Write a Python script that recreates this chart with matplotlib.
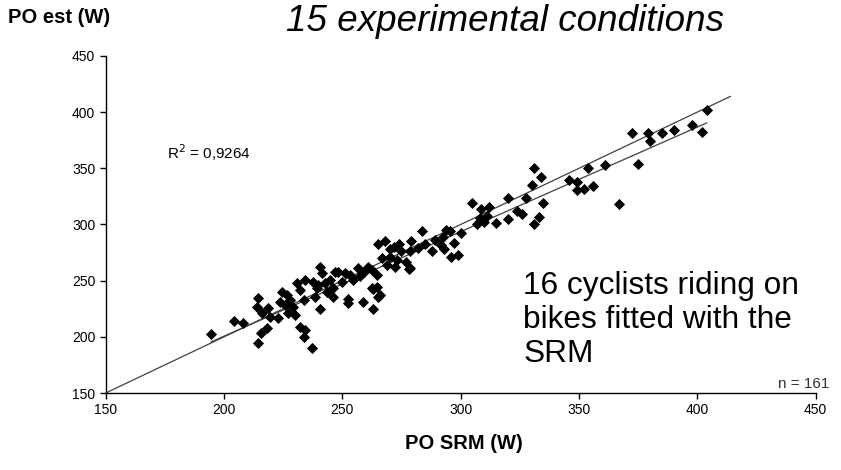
import numpy as np
import matplotlib.pyplot as plt

plt.rcParams['font.family'] = ['Liberation Sans', 'DejaVu Sans']

po_srm = [
    404, 398, 402, 390, 385, 379, 380, 372.5, 375, 367,
    361, 354, 356, 346, 349, 349, 352, 331, 334, 330,
    327.6, 335, 320, 324, 326, 333, 331, 320, 315, 305,
    308.5, 312, 308, 310, 307, 311, 300, 295.5, 297, 292.7,
    283.5, 294, 291.5, 289, 288, 293, 296, 299, 265, 268,
    272, 275, 279, 278.6, 277, 278.6, 273, 272.3, 270.2, 266.7,
    268.8, 262.4, 261, 259, 256.8, 257.5, 253.3, 251.2, 248.3, 254.6,
    249.7, 264.5, 240.5, 241.3, 237.7, 242.7, 244.8, 239.2, 243.4, 246.2,
    262.4, 264.5, 265.2, 238.5, 194.5, 204.4, 208.2, 214.5, 213.8, 216,
    218.7, 219.4, 218, 215.5, 214.5, 222.9, 224.4, 226.5, 223.7, 225.8,
    228, 229.3, 227.2, 230, 230.8, 234.3, 232.2, 233.6, 232.2, 234.3,
    233.6, 237.1, 239.9, 240.6, 252.5, 252.5, 258.6, 263.1, 265.9, 263.1,
    247, 278.3, 246.2, 282, 285, 270, 274,
]
po_est = [
    402, 389, 382, 384, 381, 381, 374, 381, 354, 318,
    353, 350, 334, 340, 338, 331, 332, 350, 342, 335,
    323.5, 319, 323.5, 312, 309, 306.6, 300, 305, 301, 319,
    313.7, 316, 305.7, 302, 300, 308, 292, 294, 283.4, 289.3,
    294, 295, 282, 286, 276, 278, 271, 273, 283, 285,
    280.4, 276, 285, 276, 267, 261, 268.5, 262.6, 271.5, 270,
    264, 259.6, 262.6, 258, 261, 254, 255, 256.7, 258, 250.7,
    249.2, 255, 262.6, 256.7, 249.2, 247.7, 250.7, 243.3, 240.3, 243.3,
    243.3, 244.7, 235.8, 235.8, 202.3, 214.2, 212.7, 234.9, 227, 221,
    225.5, 218, 207.7, 203.2, 194.8, 216.6, 240.3, 237.3, 231.4, 228.4,
    233, 227, 221, 219.5, 247.8, 250.7, 241.8, 233, 209, 206,
    200, 190.4, 246.3, 224.6, 233.5, 230.5, 230.8, 242.4, 237.3, 224.6,
    258, 260.2, 235.3, 279, 283, 278, 283,
]
r2_label = 'R$^2$ = 0,9264'
n_label = 'n = 161'
identity_range = [150, 414]

x = np.array(po_srm)
y = np.array(po_est)

fig = plt.figure(figsize=(8.41, 4.70), dpi=100)
ax = fig.add_axes([0.1257, 0.1638, 0.8440, 0.7171])

# identity line and least-squares fit
ax.plot(identity_range, identity_range, color='#404040', linewidth=0.9)
slope, intercept = np.polyfit(x, y, 1)
xf = np.array([x.min(), x.max()])
ax.plot(xf, slope * xf + intercept, color='#404040', linewidth=0.9)

ax.scatter(x, y, marker='D', s=32, color='black', linewidths=0, zorder=3)

ax.set_xlim(150, 450)
ax.set_ylim(150, 450)
ax.set_xticks(np.arange(150, 451, 50))
ax.set_yticks(np.arange(150, 451, 50))
ax.tick_params(direction='out', length=4, width=1, labelsize=10, colors='black')
ax.spines['top'].set_visible(False)
ax.spines['right'].set_visible(False)
for s in ['left', 'bottom']:
    ax.spines[s].set_linewidth(1)

ax.text(176, 364, r2_label, fontsize=11, va='center', ha='left')
ax.text(456, 152, n_label, fontsize=11, ha='right', va='bottom', color='#333333')

fig.text(0.009, 0.962, 'PO est (W)', fontsize=14.5, fontweight='bold',
         ha='left', va='center')
fig.text(0.551, 0.056, 'PO SRM (W)', fontsize=14.5, fontweight='bold',
         ha='center', va='center')
fig.text(0.6005, 0.955, '15 experimental conditions', fontsize=26.5, style='italic',
         ha='center', va='center')
fig.text(0.622, 0.319, '16 cyclists riding on\nbikes fitted with the\nSRM',
         fontsize=22.8, ha='left', va='center', linespacing=1.16)

fig.savefig('out.png', dpi=100)
